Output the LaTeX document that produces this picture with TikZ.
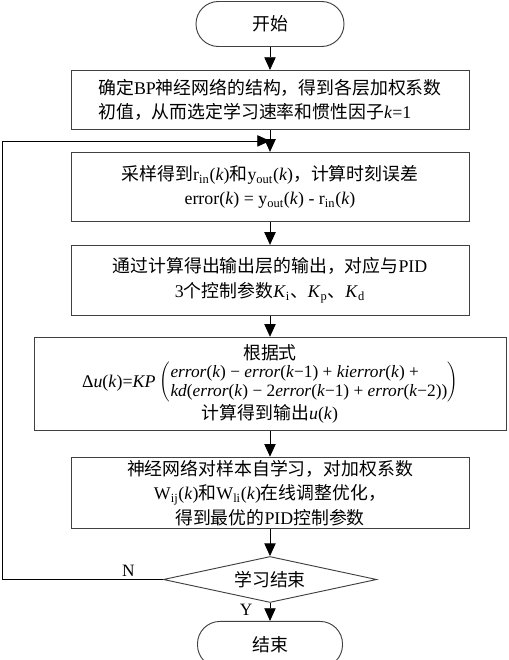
\documentclass[tikz,border=0pt]{standalone}
\usepackage{fontspec}
\setmainfont{Liberation Serif}
\newfontfamily\cjk{Noto Sans CJK SC}
\newcommand{\zh}[1]{{\cjk #1}}
\usepackage{tikz}
\usetikzlibrary{positioning,shapes.geometric,arrows.meta,calc}

\begin{document}
\begin{tikzpicture}[
  x=0.75pt, y=-0.75pt,
  box/.style={rectangle, draw=black!75, line width=0.7pt, align=center, font=\fontsize{13.4}{18.5}\selectfont},
  term/.style={box, rounded corners=16.8pt, minimum width=111pt, minimum height=33.75pt},
  proc/.style={box, minimum width=298.5pt, minimum height=51.75pt, inner sep=2pt},
  cond/.style={diamond, draw=black!75, line width=0.7pt, aspect=4.6, inner sep=0pt, minimum width=160pt, minimum height=34.5pt, font=\fontsize{13.4}{16}\selectfont},
  arr/.style={-{Triangle[length=9.5pt,width=8.5pt]}, line width=0.6pt, black},
  lbl/.style={font=\fontsize{13}{16}\selectfont, inner sep=0pt}
]
\useasboundingbox (0,0) rectangle (509,660);
% start and set-up
\node[term] (start) at (270,24) {\zh{开始}};
\node[proc, below=17.25pt of start, minimum height=44.25pt, align=left] (init) {\zh{确定}BP\zh{神经网络的结构，得到各层加权系数}\\ \zh{初值，从而选定学习速率和惯性因子}\textit{k}=1};
% one learning step
\node[proc, below=16.5pt of init] (sample) {\zh{采样得到}r\textsubscript{in}(\textit{k})\zh{和}y\textsubscript{out}(\textit{k})\zh{，计算时刻误差}\\ error(\textit{k}) = y\textsubscript{out}(\textit{k}) - r\textsubscript{in}(\textit{k})};
\node[proc, below=17.25pt of sample, minimum height=52.5pt] (gains) {\zh{通过计算得出输出层的输出，对应与}PID\\ 3\zh{个控制参数}\textit{K}\textsubscript{i}\zh{、}\textit{K}\textsubscript{p}\zh{、}\textit{K}\textsubscript{d}};
\node[proc, below=15.75pt of gains, minimum width=354pt, minimum height=69.75pt, font=\fontsize{13.4}{16}\selectfont] (law) {\zh{根据式}\\
  Δ\textit{u}(\textit{k})=\textit{KP} $\left(\fontsize{13}{14.5}\selectfont\begin{tabular}{@{}l@{}}\textit{error}(\textit{k}) − \textit{error}(\textit{k}−1) + \textit{kierror}(\textit{k}) +\\ \textit{kd}(\textit{error}(\textit{k}) − 2\textit{error}(\textit{k}−1) + \textit{error}(\textit{k}−2))\end{tabular}\right)$\\
  \zh{计算得到输出}\textit{u}(\textit{k})};
\node[proc, below=19.5pt of law] (learn) {\zh{神经网络对样本自学习，对加权系数}\\ W\textsubscript{ij}(\textit{k})\zh{和}W\textsubscript{li}(\textit{k})\zh{在线调整优化，}\\ \zh{得到最优的}PID\zh{控制参数}};
% decision and end
\node[cond, below=20.25pt of learn] (dec) {\zh{学习结束}};
\node[term, below=13.5pt of dec, minimum width=108.75pt, minimum height=34.5pt] (stop) {\zh{结束}};
\node[lbl, above left=2pt and 21pt of dec.west] (nlab) {N};
\node[lbl, below left=1pt and 13pt of dec.south] (ylab) {Y};
% arrows
\coordinate (fb) at ($(init.south)!0.5!(sample.north)$);
\coordinate (loopx) at ([xshift=-23pt]law.west);
\draw[arr] (start)--(init); \draw[arr] (init)--(sample); \draw[arr] (sample)--(gains);
\draw[arr] (gains)--(law); \draw[arr] (law)--(learn); \draw[arr] (learn)--(dec);
\draw[arr] (dec)--(stop);
\draw[arr] (dec.west) -- (dec.west -| loopx) |- (fb);
\end{tikzpicture}
\end{document}
